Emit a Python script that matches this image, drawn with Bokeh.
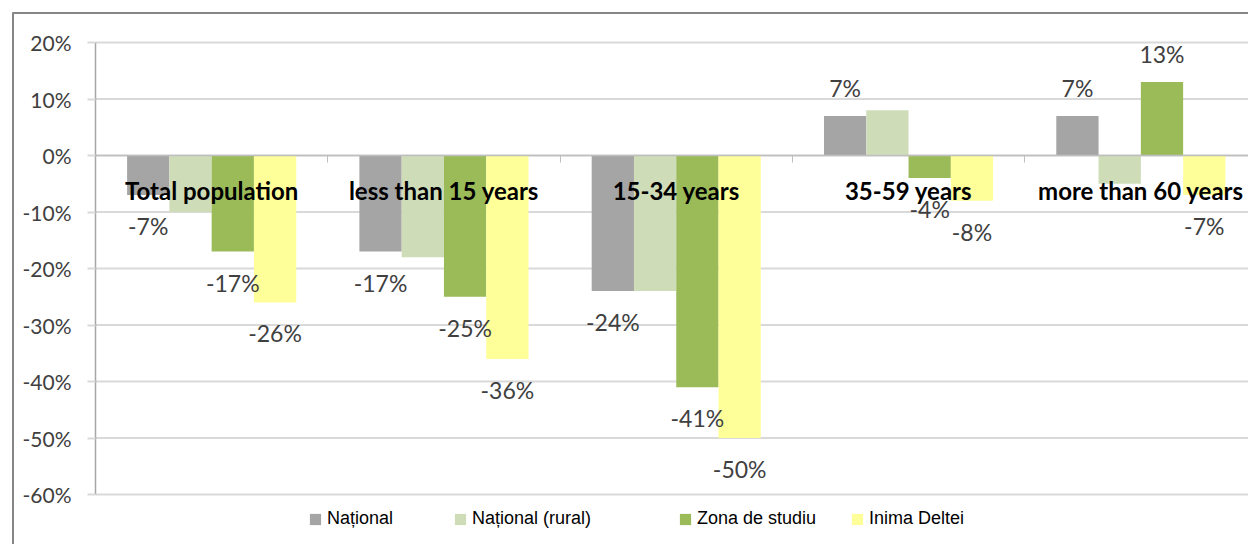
from bokeh.plotting import figure
from bokeh.models import (Range1d, LinearAxis, FixedTicker, NumeralTickFormatter,
                          ColumnDataSource, Legend, LegendItem)
from bokeh.core.properties import value
from bokeh.embed import file_html
from bokeh.resources import INLINE

# ---- data ----
categories = ["Total population", "less than 15 years", "15-34 years",
              "35-59 years", "more than 60 years"]
series_names = ["Național", "Național (rural)", "Zona de studiu", "Inima Deltei"]
national = [-7, -17, -24, 7, 7]
national_rural = [-10, -18, -24, 8, -5]
zona_de_studiu = [-17, -25, -41, -4, 13]
inima_deltei = [-26, -36, -50, -8, -7]
series_values = [national, national_rural, zona_de_studiu, inima_deltei]
series_labelled = [True, False, True, True]
y_tick_values = [-60, -50, -40, -30, -20, -10, 0, 10, 20]

# ---- layout / styles ----
W, H = 1248, 544
slot_px = 232.3          # pixels per category
axis_px = 95             # screen x of the value axis
unit_px = 565.0          # pixels per 100 %
top20_px = 42            # screen y of the 20 % line
colors = ["#a5a5a5", "#cfdcb8", "#9bbb59", "#ffff99"]
num_font = "Lato"
bar_w = 0.182
legend_x = [308, 453, 678, 850]
legend_bottom = 15

x_start = -axis_px / slot_px
x_end = (W - axis_px) / slot_px
y_top = 0.2 + top20_px / unit_px
y_bot = y_top - H / unit_px


def sx(px):
    return x_start + px / slot_px


def sy(py):
    return y_top - py / unit_px


p = figure(width=W, height=H, output_backend="svg", toolbar_location=None,
           x_range=Range1d(x_start, x_end), y_range=Range1d(y_bot, y_top),
           x_axis_type=None, y_axis_type=None,
           min_border_left=0, min_border_top=0, min_border_right=0, min_border_bottom=0,
           outline_line_color=None, background_fill_color="white",
           border_fill_color="white")

ticks = [t / 100 for t in y_tick_values]

# grid lines (from the value axis to the right edge)
p.segment(x0=[0] * len(ticks), x1=[x_end] * len(ticks), y0=ticks, y1=ticks,
          line_color="#d9d9d9", line_width=2)

# chart-area border (top and left)
p.segment(x0=[sx(12.5), sx(12)], x1=[sx(12.5), x_end], y0=[sy(12), sy(12.5)],
          y1=[y_bot, sy(12.5)], line_color="#868686", line_width=2)

yaxis = LinearAxis(fixed_location=0, bounds=(-0.6, 0.2), ticker=FixedTicker(ticks=ticks),
                   formatter=NumeralTickFormatter(format="0%"),
                   major_tick_out=8, major_tick_in=0, major_tick_line_color="#d9d9d9",
                   major_tick_line_width=2, minor_tick_line_color=None,
                   axis_line_color="#a6a6a6", axis_line_width=1.5,
                   major_label_text_font=num_font, major_label_text_font_size="21px",
                   major_label_text_color="#404040", major_label_standoff=16)
p.add_layout(yaxis, "left")

xticks = list(range(len(categories) + 1))
xaxis = LinearAxis(fixed_location=0, bounds=(0, x_end), ticker=FixedTicker(ticks=xticks),
                   major_tick_out=7, major_tick_in=0,
                   major_label_overrides={t: "" for t in xticks},
                   major_tick_line_color="#bfbfbf", axis_line_color="#bfbfbf",
                   axis_line_width=1.5, minor_tick_line_color=None)
p.add_layout(xaxis, "below")

renderers = []
for i, vals in enumerate(series_values):
    xs = [c + 0.5 + (i - 1.5) * bar_w for c in range(len(categories))]
    src = ColumnDataSource(dict(x=xs, top=[v / 100 for v in vals]))
    r = p.vbar(x="x", top="top", bottom=0, width=bar_w, source=src,
               fill_color=colors[i], line_color=None)
    renderers.append(r)

# category labels
cat_src = ColumnDataSource(dict(x=[c + 0.5 for c in range(len(categories))],
                                y=[-0.062] * len(categories), text=categories))
p.text(x="x", y="y", text="text", source=cat_src, text_align="center",
       text_baseline="middle", text_font=value(num_font), text_font_style="bold",
       text_font_size="24px", text_color="#000000")

# data labels
for i, vals in enumerate(series_values):
    if not series_labelled[i]:
        continue
    xs = [c + 0.5 + (i - 1.5) * bar_w for c in range(len(categories))]
    src = ColumnDataSource(dict(x=xs, y=[v / 100 for v in vals],
                                text=[f"{v}%" for v in vals],
                                yo=[31 if v < 0 else -28 for v in vals]))
    p.text(x="x", y="y", text="text", y_offset="yo", source=src,
           text_align="center", text_baseline="middle", text_font=value(num_font),
           text_font_size="23px", text_color="#404040")

for i, name in enumerate(series_names):
    leg = Legend(items=[LegendItem(label=name, renderers=[renderers[i]])],
                 location=(legend_x[i], legend_bottom), orientation="horizontal",
                 glyph_width=14, glyph_height=14, label_standoff=5,
                 padding=0, margin=0, spacing=0, border_line_color=None,
                 background_fill_alpha=0, label_text_font="Liberation Sans",
                 label_text_font_size="18px", label_text_color="#000000")
    p.add_layout(leg)

open("out.html", "w").write(file_html(p, INLINE))
